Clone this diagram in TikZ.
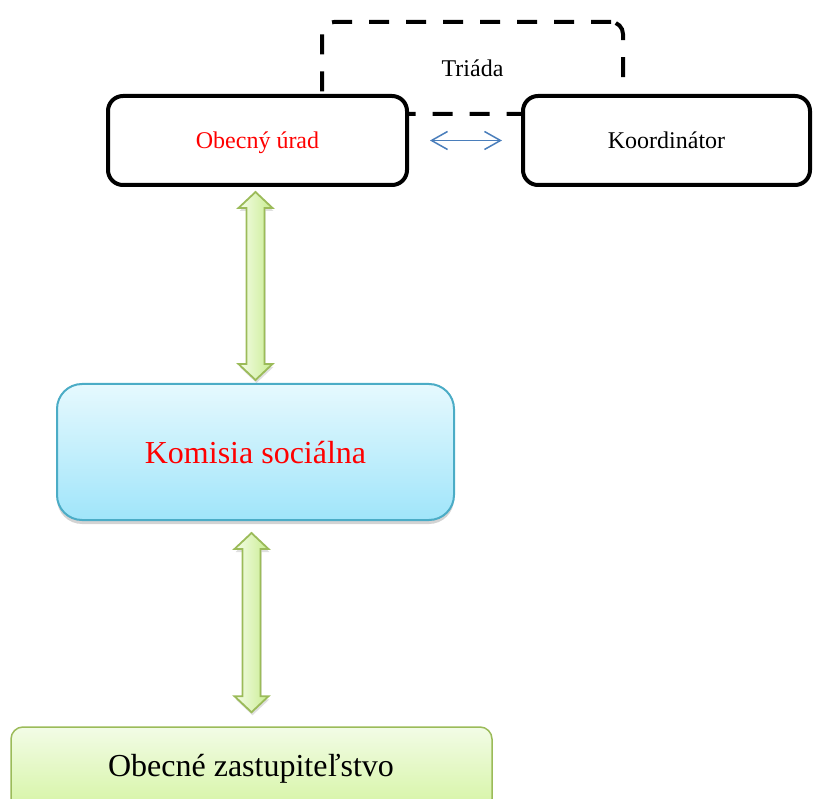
\documentclass[tikz,border=0pt]{standalone}
\usepackage{fontspec}
\setmainfont{Liberation Serif}
\usetikzlibrary{calc,shadows,arrows.meta}
\definecolor{kred}{HTML}{FF0000}
\definecolor{kblue}{HTML}{4A7EBB}
\definecolor{kborder}{HTML}{4BACC6}
\definecolor{ktop}{HTML}{E6F9FE}
\definecolor{kbot}{HTML}{A0E5FA}
\definecolor{gborder}{HTML}{9BBB59}
\definecolor{gtop}{HTML}{F2FCE6}
\definecolor{gbot}{HTML}{D5F4A3}
\definecolor{gaL}{HTML}{F5FDE8}
\definecolor{gaR}{HTML}{C8EC90}
\begin{document}
\begin{tikzpicture}[x=1pt,y=-1pt,
  blackbox/.style={draw=black, line width=4pt, rounded corners=15pt, fill=white,
    minimum height=89pt, inner sep=0pt, text depth=0pt, font=\fontsize{24}{28}\selectfont},
  triadabox/.style={draw=black, line width=4pt, rounded corners=12pt,
    dash pattern=on 20pt off 17pt, minimum width=301pt, minimum height=92pt,
    inner sep=0pt, font=\fontsize{24}{28}\selectfont},
  komisiabox/.style={draw=kborder, line width=2pt, rounded corners=25pt,
    top color=ktop, bottom color=kbot, minimum width=397pt, minimum height=136pt,
    inner sep=0pt, text depth=0pt, font=\fontsize{32}{38}\selectfont, text=kred,
    drop shadow={shadow xshift=0pt, shadow yshift=-4pt, opacity=0.35}},
  zastbox/.style={draw=gborder, line width=1.5pt, rounded corners=12pt,
    top color=gtop, bottom color=gbot, minimum width=481pt, minimum height=84pt,
    inner sep=0pt},
  bigtext/.style={inner sep=0pt, text depth=0pt, font=\fontsize{32}{38}\selectfont},
  bluearrow/.style={draw=kblue, line width=1.5pt,
    {Straight Barb[length=16pt,width=18pt]}-{Straight Barb[length=16pt,width=18pt]}},
  greenarrow/.style 2 args={draw=gborder, line width=1.8pt, left color=gaL, right color=gaR,
    drop shadow={shadow xshift=1pt, shadow yshift=-3pt, opacity=0.25},
    to path={let \p1=(\tikztostart.south), \p2=(\tikztotarget.north) in
      (\x2,\y1-#1) -- (\x2+17pt,\y1-#1-16pt) -- (\x2+9pt,\y1-#1-16pt)
      -- (\x2+9pt,\y2+#2+16pt) -- (\x2+17pt,\y2+#2+16pt) -- (\x2,\y2+#2)
      -- (\x2-17pt,\y2+#2+16pt) -- (\x2-9pt,\y2+#2+16pt)
      -- (\x2-9pt,\y1-#1-16pt) -- (\x2-17pt,\y1-#1-16pt) -- cycle}}
]
\useasboundingbox (0,0) rectangle (814,799);

\node[triadabox] (triada) at (472.5,68) {Triáda};
\node[blackbox, minimum width=299pt, text=kred] (obec) at (257.5,140.5) {Obecný úrad};
\node[blackbox, minimum width=287pt] (koord) at (666.5,140.5) {Koordinátor};

\draw[bluearrow, shorten <=21pt, shorten >=19pt] (obec.east) -- (koord.west);

\node[komisiabox] (komisia) at (255.5,452) {Komisia sociálna};
\node[zastbox] (zast) at (251.5,769) {};
\node[bigtext] (zasttext) at (251,765) {Obecné zastupiteľstvo};

\draw[greenarrow={5pt}{3pt}] (obec) to (komisia);
\draw[greenarrow={12pt}{14pt}] (komisia) to (zast);
\end{tikzpicture}
\end{document}
